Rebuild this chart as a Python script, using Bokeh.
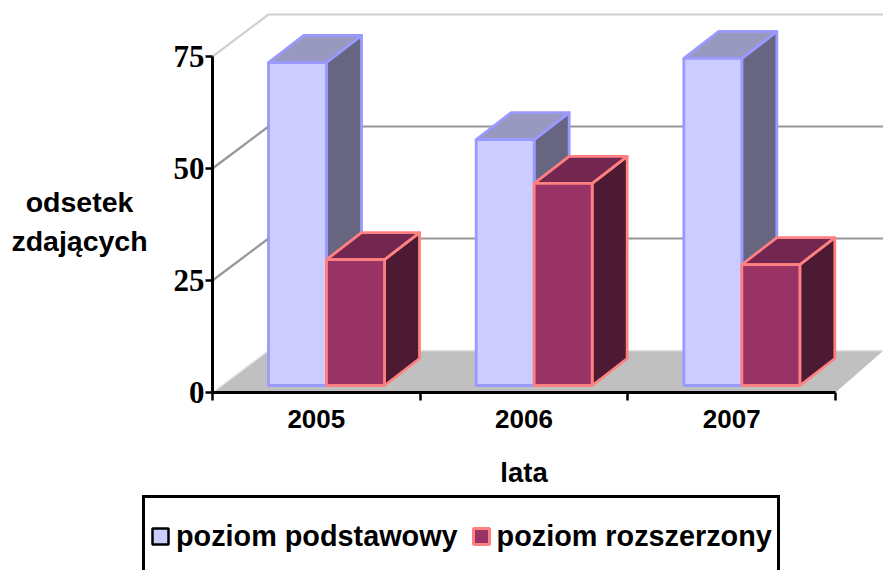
from bokeh.plotting import figure
from bokeh.models import Range1d, FixedTicker, Legend, LegendItem, Label
from bokeh.embed import file_html
from bokeh.resources import INLINE

years = ["2005", "2006", "2007"]
poziom_podstawowy = [72.1, 54.9, 73.0]
poziom_rozszerzony = [28.1, 45.1, 27.0]
y_ticks = [0, 25, 50, 75]
y_title = ["odsetek", "zdających"]

W, H = 883, 570
LEFT, BOTTOM = 212, 178
PX_X, PX_Y = 207.67, 4.48      # pixels per category, pixels per percent
WALL_X, WALL_Y = 56 / PX_X, 42 / PX_Y
BAR_X, BAR_Y = 35 / PX_X, 27 / PX_Y
BASE = 7 / PX_Y
BAR_W = 58 / PX_X
START = 56 / PX_X

xmin, xmax = -LEFT / PX_X, (W - LEFT) / PX_X
ymin, ymax = -BOTTOM / PX_Y, (H - BOTTOM) / PX_Y

p = figure(width=W, height=H, output_backend="svg", toolbar_location=None,
           x_range=Range1d(xmin, xmax), y_range=Range1d(ymin, ymax),
           min_border=0, outline_line_color=None, background_fill_color="white")
p.grid.visible = False

# floor
p.patch([0, WALL_X, xmax, 3], [0, WALL_Y, WALL_Y, 0], fill_color="#c0c0c0", line_color=None)
p.line([WALL_X, xmax], [WALL_Y, WALL_Y], line_color="#e6e6e6", line_width=1.5)
p.line([0, WALL_X], [0, WALL_Y], line_color="#e6e6e6", line_width=1.5)

# wall gridlines
for v in y_ticks[1:]:
    c = "#d0d0d0" if v == 75 else "#969696"
    p.line([0, WALL_X, xmax], [v, v + WALL_Y, v + WALL_Y], line_color=c, line_width=2.2)

def bars(values, offset, front, top, side, edge):
    L = [i + START + offset for i in range(len(values))]
    R = [x + BAR_W for x in L]
    T = [v + BASE for v in values]
    B = [BASE] * len(values)
    side_xs = [[r, r + BAR_X, r + BAR_X, r] for r in R]
    side_ys = [[b, b + BAR_Y, t + BAR_Y, t] for b, t in zip(B, T)]
    top_xs = [[l, l + BAR_X, r + BAR_X, r] for l, r in zip(L, R)]
    top_ys = [[t, t + BAR_Y, t + BAR_Y, t] for t in T]
    p.patches(side_xs, side_ys, fill_color=side, line_color=edge, line_width=2.8, line_join="round")
    p.patches(top_xs, top_ys, fill_color=top, line_color=edge, line_width=2.8, line_join="round")
    return p.quad(left=L, right=R, bottom=B, top=T, fill_color=front, line_color=edge, line_width=2.8)

bars(poziom_podstawowy, 0, "#ccccff", "#9999bf", "#666680", "#9999ff")
bars(poziom_rozszerzony, BAR_W, "#993366", "#732650", "#4d1a33", "#ff8080")

# legend swatches (their outlines differ from the bars'); NaN draws nothing in the plot
nan = float("nan")
r1 = p.quad(left=[nan], right=[nan], bottom=[nan], top=[nan], fill_color="#ccccff", line_color="black", line_width=2.5)
r2 = p.quad(left=[nan], right=[nan], bottom=[nan], top=[nan], fill_color="#993366", line_color="#ff8080", line_width=3)

# axes
xa = p.xaxis[0]
xa.fixed_location = 0
xa.ticker = FixedTicker(ticks=[0.5, 1.5, 2.5], minor_ticks=[0, 1, 2, 3])
xa.major_label_overrides = {i + 0.5: y for i, y in enumerate(years)}
xa.bounds = (0, 3)
xa.axis_line_color = "black"
xa.axis_line_width = 3
xa.major_tick_line_color = None
xa.major_tick_out = 8
xa.minor_tick_line_color = "black"
xa.minor_tick_line_width = 2.5
xa.minor_tick_out = 8
xa.minor_tick_in = 0
xa.major_label_text_font = "Liberation Sans"
xa.major_label_text_font_style = "bold"
xa.major_label_text_font_size = "26px"
xa.major_label_text_color = "black"
xa.major_label_standoff = 9
xa.axis_label = "lata"
xa.axis_label_text_font = "Liberation Sans"
xa.axis_label_text_font_style = "bold"
xa.axis_label_text_font_size = "27.5px"
xa.axis_label_text_color = "black"
xa.axis_label_standoff = 26

ya = p.yaxis[0]
ya.fixed_location = 0
ya.ticker = FixedTicker(ticks=y_ticks)
ya.bounds = (0, 75)
ya.axis_line_color = "black"
ya.axis_line_width = 3
ya.major_tick_line_color = "black"
ya.major_tick_line_width = 2.5
ya.major_tick_out = 7
ya.major_tick_in = 0
ya.minor_tick_line_color = None
ya.major_label_text_font = "Liberation Serif"
ya.major_label_text_font_style = "bold"
ya.major_label_text_font_size = "31px"
ya.major_label_text_color = "black"
ya.major_label_standoff = 1

for txt, base_y in zip(y_title, [H - 201, H - 240]):
    p.add_layout(Label(x=79, y=base_y, x_units="screen", y_units="screen", text=txt,
                       text_align="center", text_baseline="alphabetic",
                       text_font="Liberation Sans", text_font_style="bold",
                       text_font_size="28.5px", text_color="black"))

legend = Legend(items=[LegendItem(label="poziom podstawowy", renderers=[r1]),
                       LegendItem(label="poziom rozszerzony", renderers=[r2])],
                orientation="horizontal", location=(142, -7),
                border_line_color="black", border_line_width=3, border_line_alpha=1,
                background_fill_color="white", background_fill_alpha=1,
                padding=5, margin=0, spacing=13,
                glyph_width=20, glyph_height=20, label_standoff=6,
                label_height=66,
                label_text_font="Liberation Sans", label_text_font_style="bold",
                label_text_font_size="28.8px", label_text_color="black")
p.add_layout(legend, "center")

open("out.html", "w").write(file_html(p, INLINE))
